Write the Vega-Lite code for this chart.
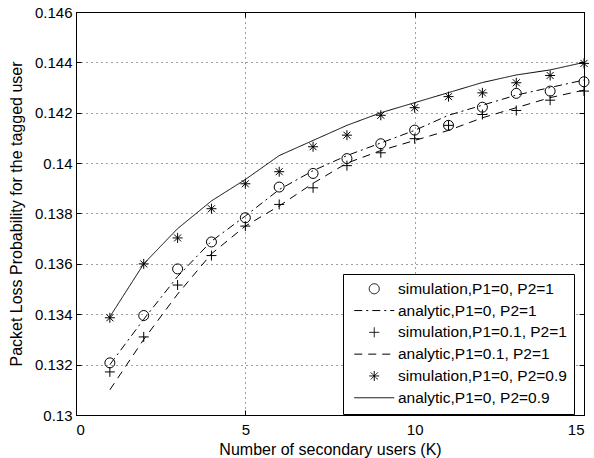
{
  "$schema": "https://vega.github.io/schema/vega-lite/v6.json",
  "width": 508,
  "height": 403,
  "autosize": {"type": "none"},
  "padding": {"left": 76, "top": 12, "right": 10, "bottom": 43},
  "background": "white",
  "config": {
    "font": "Liberation Sans",
    "view": {"stroke": "black", "strokeWidth": 1},
    "axis": {
      "domainColor": "black",
      "tickColor": "black",
      "labelColor": "black",
      "titleColor": "black",
      "labelFont": "Liberation Sans",
      "titleFont": "Liberation Sans",
      "labelFontSize": 15,
      "titleFontSize": 16,
      "titleFontWeight": "normal",
      "tickSize": -5,
      "gridColor": "#000000",
      "gridOpacity": 0.75,
      "gridDash": [1, 4],
      "gridWidth": 1
    },
    "legend": {
      "labelFont": "Liberation Sans",
      "labelFontSize": 15.5,
      "labelColor": "black"
    }
  },
  "data": {
    "values": [
      {"K": 1, "series": "simulation,P1=0, P2=1", "kind": "sim", "value": 0.13207},
      {"K": 2, "series": "simulation,P1=0, P2=1", "kind": "sim", "value": 0.13395},
      {"K": 3, "series": "simulation,P1=0, P2=1", "kind": "sim", "value": 0.13580},
      {"K": 4, "series": "simulation,P1=0, P2=1", "kind": "sim", "value": 0.13687},
      {"K": 5, "series": "simulation,P1=0, P2=1", "kind": "sim", "value": 0.13783},
      {"K": 6, "series": "simulation,P1=0, P2=1", "kind": "sim", "value": 0.13905},
      {"K": 7, "series": "simulation,P1=0, P2=1", "kind": "sim", "value": 0.13959},
      {"K": 8, "series": "simulation,P1=0, P2=1", "kind": "sim", "value": 0.14018},
      {"K": 9, "series": "simulation,P1=0, P2=1", "kind": "sim", "value": 0.14077},
      {"K": 10, "series": "simulation,P1=0, P2=1", "kind": "sim", "value": 0.14131},
      {"K": 11, "series": "simulation,P1=0, P2=1", "kind": "sim", "value": 0.14150},
      {"K": 12, "series": "simulation,P1=0, P2=1", "kind": "sim", "value": 0.14222},
      {"K": 13, "series": "simulation,P1=0, P2=1", "kind": "sim", "value": 0.14277},
      {"K": 14, "series": "simulation,P1=0, P2=1", "kind": "sim", "value": 0.14286},
      {"K": 15, "series": "simulation,P1=0, P2=1", "kind": "sim", "value": 0.14323},

      {"K": 1, "series": "analytic,P1=0, P2=1", "kind": "ana", "value": 0.1320},
      {"K": 2, "series": "analytic,P1=0, P2=1", "kind": "ana", "value": 0.1338},
      {"K": 3, "series": "analytic,P1=0, P2=1", "kind": "ana", "value": 0.1355},
      {"K": 4, "series": "analytic,P1=0, P2=1", "kind": "ana", "value": 0.1369},
      {"K": 5, "series": "analytic,P1=0, P2=1", "kind": "ana", "value": 0.1379},
      {"K": 6, "series": "analytic,P1=0, P2=1", "kind": "ana", "value": 0.13895},
      {"K": 7, "series": "analytic,P1=0, P2=1", "kind": "ana", "value": 0.1397},
      {"K": 8, "series": "analytic,P1=0, P2=1", "kind": "ana", "value": 0.1403},
      {"K": 9, "series": "analytic,P1=0, P2=1", "kind": "ana", "value": 0.1408},
      {"K": 10, "series": "analytic,P1=0, P2=1", "kind": "ana", "value": 0.1413},
      {"K": 11, "series": "analytic,P1=0, P2=1", "kind": "ana", "value": 0.1419},
      {"K": 12, "series": "analytic,P1=0, P2=1", "kind": "ana", "value": 0.1423},
      {"K": 13, "series": "analytic,P1=0, P2=1", "kind": "ana", "value": 0.1427},
      {"K": 14, "series": "analytic,P1=0, P2=1", "kind": "ana", "value": 0.1430},
      {"K": 15, "series": "analytic,P1=0, P2=1", "kind": "ana", "value": 0.1433},

      {"K": 1, "series": "simulation,P1=0.1, P2=1", "kind": "sim", "value": 0.13171},
      {"K": 2, "series": "simulation,P1=0.1, P2=1", "kind": "sim", "value": 0.13310},
      {"K": 3, "series": "simulation,P1=0.1, P2=1", "kind": "sim", "value": 0.13516},
      {"K": 4, "series": "simulation,P1=0.1, P2=1", "kind": "sim", "value": 0.13633},
      {"K": 5, "series": "simulation,P1=0.1, P2=1", "kind": "sim", "value": 0.13750},
      {"K": 6, "series": "simulation,P1=0.1, P2=1", "kind": "sim", "value": 0.13836},
      {"K": 7, "series": "simulation,P1=0.1, P2=1", "kind": "sim", "value": 0.13902},
      {"K": 8, "series": "simulation,P1=0.1, P2=1", "kind": "sim", "value": 0.13990},
      {"K": 9, "series": "simulation,P1=0.1, P2=1", "kind": "sim", "value": 0.14041},
      {"K": 10, "series": "simulation,P1=0.1, P2=1", "kind": "sim", "value": 0.14097},
      {"K": 11, "series": "simulation,P1=0.1, P2=1", "kind": "sim", "value": 0.14150},
      {"K": 12, "series": "simulation,P1=0.1, P2=1", "kind": "sim", "value": 0.14193},
      {"K": 13, "series": "simulation,P1=0.1, P2=1", "kind": "sim", "value": 0.14209},
      {"K": 14, "series": "simulation,P1=0.1, P2=1", "kind": "sim", "value": 0.14250},
      {"K": 15, "series": "simulation,P1=0.1, P2=1", "kind": "sim", "value": 0.14286},

      {"K": 1, "series": "analytic,P1=0.1, P2=1", "kind": "ana", "value": 0.1310},
      {"K": 2, "series": "analytic,P1=0.1, P2=1", "kind": "ana", "value": 0.1330},
      {"K": 3, "series": "analytic,P1=0.1, P2=1", "kind": "ana", "value": 0.1348},
      {"K": 4, "series": "analytic,P1=0.1, P2=1", "kind": "ana", "value": 0.1364},
      {"K": 5, "series": "analytic,P1=0.1, P2=1", "kind": "ana", "value": 0.1375},
      {"K": 6, "series": "analytic,P1=0.1, P2=1", "kind": "ana", "value": 0.1383},
      {"K": 7, "series": "analytic,P1=0.1, P2=1", "kind": "ana", "value": 0.1392},
      {"K": 8, "series": "analytic,P1=0.1, P2=1", "kind": "ana", "value": 0.1400},
      {"K": 9, "series": "analytic,P1=0.1, P2=1", "kind": "ana", "value": 0.1405},
      {"K": 10, "series": "analytic,P1=0.1, P2=1", "kind": "ana", "value": 0.1409},
      {"K": 11, "series": "analytic,P1=0.1, P2=1", "kind": "ana", "value": 0.1413},
      {"K": 12, "series": "analytic,P1=0.1, P2=1", "kind": "ana", "value": 0.1418},
      {"K": 13, "series": "analytic,P1=0.1, P2=1", "kind": "ana", "value": 0.1422},
      {"K": 14, "series": "analytic,P1=0.1, P2=1", "kind": "ana", "value": 0.1426},
      {"K": 15, "series": "analytic,P1=0.1, P2=1", "kind": "ana", "value": 0.1429},

      {"K": 1, "series": "simulation,P1=0, P2=0.9", "kind": "sim", "value": 0.13386},
      {"K": 2, "series": "simulation,P1=0, P2=0.9", "kind": "sim", "value": 0.13600},
      {"K": 3, "series": "simulation,P1=0, P2=0.9", "kind": "sim", "value": 0.13703},
      {"K": 4, "series": "simulation,P1=0, P2=0.9", "kind": "sim", "value": 0.13819},
      {"K": 5, "series": "simulation,P1=0, P2=0.9", "kind": "sim", "value": 0.13918},
      {"K": 6, "series": "simulation,P1=0, P2=0.9", "kind": "sim", "value": 0.13966},
      {"K": 7, "series": "simulation,P1=0, P2=0.9", "kind": "sim", "value": 0.14065},
      {"K": 8, "series": "simulation,P1=0, P2=0.9", "kind": "sim", "value": 0.14111},
      {"K": 9, "series": "simulation,P1=0, P2=0.9", "kind": "sim", "value": 0.14190},
      {"K": 10, "series": "simulation,P1=0, P2=0.9", "kind": "sim", "value": 0.14220},
      {"K": 11, "series": "simulation,P1=0, P2=0.9", "kind": "sim", "value": 0.14264},
      {"K": 12, "series": "simulation,P1=0, P2=0.9", "kind": "sim", "value": 0.14279},
      {"K": 13, "series": "simulation,P1=0, P2=0.9", "kind": "sim", "value": 0.14319},
      {"K": 14, "series": "simulation,P1=0, P2=0.9", "kind": "sim", "value": 0.14348},
      {"K": 15, "series": "simulation,P1=0, P2=0.9", "kind": "sim", "value": 0.14396},

      {"K": 1, "series": "analytic,P1=0, P2=0.9", "kind": "ana", "value": 0.1339},
      {"K": 2, "series": "analytic,P1=0, P2=0.9", "kind": "ana", "value": 0.1360},
      {"K": 3, "series": "analytic,P1=0, P2=0.9", "kind": "ana", "value": 0.1374},
      {"K": 4, "series": "analytic,P1=0, P2=0.9", "kind": "ana", "value": 0.1385},
      {"K": 5, "series": "analytic,P1=0, P2=0.9", "kind": "ana", "value": 0.13935},
      {"K": 6, "series": "analytic,P1=0, P2=0.9", "kind": "ana", "value": 0.1403},
      {"K": 7, "series": "analytic,P1=0, P2=0.9", "kind": "ana", "value": 0.1409},
      {"K": 8, "series": "analytic,P1=0, P2=0.9", "kind": "ana", "value": 0.1415},
      {"K": 9, "series": "analytic,P1=0, P2=0.9", "kind": "ana", "value": 0.1420},
      {"K": 10, "series": "analytic,P1=0, P2=0.9", "kind": "ana", "value": 0.1424},
      {"K": 11, "series": "analytic,P1=0, P2=0.9", "kind": "ana", "value": 0.1428},
      {"K": 12, "series": "analytic,P1=0, P2=0.9", "kind": "ana", "value": 0.1432},
      {"K": 13, "series": "analytic,P1=0, P2=0.9", "kind": "ana", "value": 0.1435},
      {"K": 14, "series": "analytic,P1=0, P2=0.9", "kind": "ana", "value": 0.1437},
      {"K": 15, "series": "analytic,P1=0, P2=0.9", "kind": "ana", "value": 0.1440}
    ]
  },
  "layer": [
    {
      "transform": [{"filter": "datum.kind == 'ana'"}],
      "mark": {"type": "line", "color": "black", "strokeWidth": 1},
      "encoding": {
        "x": {
          "field": "K", "type": "quantitative",
          "scale": {"domain": [0, 15], "nice": false, "zero": false},
          "axis": {"orient": "bottom", "values": [0, 5, 10, 15], "title": "Number of secondary users (K)", "grid": true, "labelPadding": 12, "titlePadding": 4}
        },
        "y": {
          "field": "value", "type": "quantitative",
          "scale": {"domain": [0.13, 0.146], "nice": false, "zero": false},
          "axis": {"orient": "left", "values": [0.13, 0.132, 0.134, 0.136, 0.138, 0.14, 0.142, 0.144, 0.146], "format": ".3~f", "title": "Packet Loss Probability for the tagged user", "grid": true, "labelPadding": 9, "titlePadding": 10}
        },
        "detail": {"field": "series"},
        "strokeDash": {
          "field": "series", "type": "nominal",
          "scale": {
            "domain": ["simulation,P1=0, P2=1", "analytic,P1=0, P2=1", "simulation,P1=0.1, P2=1", "analytic,P1=0.1, P2=1", "simulation,P1=0, P2=0.9", "analytic,P1=0, P2=0.9"],
            "range": [[1, 0], [8, 4, 2, 4], [1, 0], [8, 6], [1, 0], [1, 0]]
          },
          "legend": {
            "title": null,
            "orient": "none",
            "legendX": 267,
            "legendY": 262,
            "padding": 7,
            "strokeColor": "black",
            "fillColor": "white",
            "symbolSize": 100,
            "symbolStrokeWidth": 1,
            "symbolStrokeColor": "black",
            "symbolFillColor": "transparent",
            "symbolOffset": 16.5,
            "labelOffset": 16,
            "rowPadding": 4.8,
            "labelLimit": 400
          }
        }
      }
    },
    {
      "transform": [{"filter": "datum.kind == 'sim'"}],
      "mark": {"type": "point", "filled": false, "color": "black", "strokeWidth": 1, "size": 100, "opacity": 1},
      "encoding": {
        "x": {
          "field": "K", "type": "quantitative",
          "axis": {"orient": "top", "values": [0, 5, 10, 15], "labels": false, "title": null, "grid": false, "domain": false}
        },
        "y": {
          "field": "value", "type": "quantitative",
          "axis": {"orient": "right", "values": [0.13, 0.132, 0.134, 0.136, 0.138, 0.14, 0.142, 0.144, 0.146], "labels": false, "title": null, "grid": false, "domain": false}
        },
        "shape": {
          "field": "series", "type": "nominal",
          "scale": {
            "domain": ["simulation,P1=0, P2=1", "analytic,P1=0, P2=1", "simulation,P1=0.1, P2=1", "analytic,P1=0.1, P2=1", "simulation,P1=0, P2=0.9", "analytic,P1=0, P2=0.9"],
            "range": ["circle", "M-4,0H4", "M-1,0H1M0,-1V1", "M-4,0H4", "M-1,0H1M0,-1V1M-0.7,-0.7L0.7,0.7M-0.7,0.7L0.7,-0.7", "M-4,0H4"]
          },
          "legend": {
            "title": null,
            "orient": "none",
            "legendX": 267,
            "legendY": 262,
            "padding": 7,
            "strokeColor": "black",
            "fillColor": "white",
            "symbolSize": 100,
            "symbolStrokeWidth": 1,
            "symbolStrokeColor": "black",
            "symbolFillColor": "transparent",
            "symbolOffset": 16.5,
            "labelOffset": 16,
            "rowPadding": 4.8,
            "labelLimit": 400
          }
        }
      }
    }
  ],
  "resolve": {"axis": {"x": "independent", "y": "independent"}}
}
